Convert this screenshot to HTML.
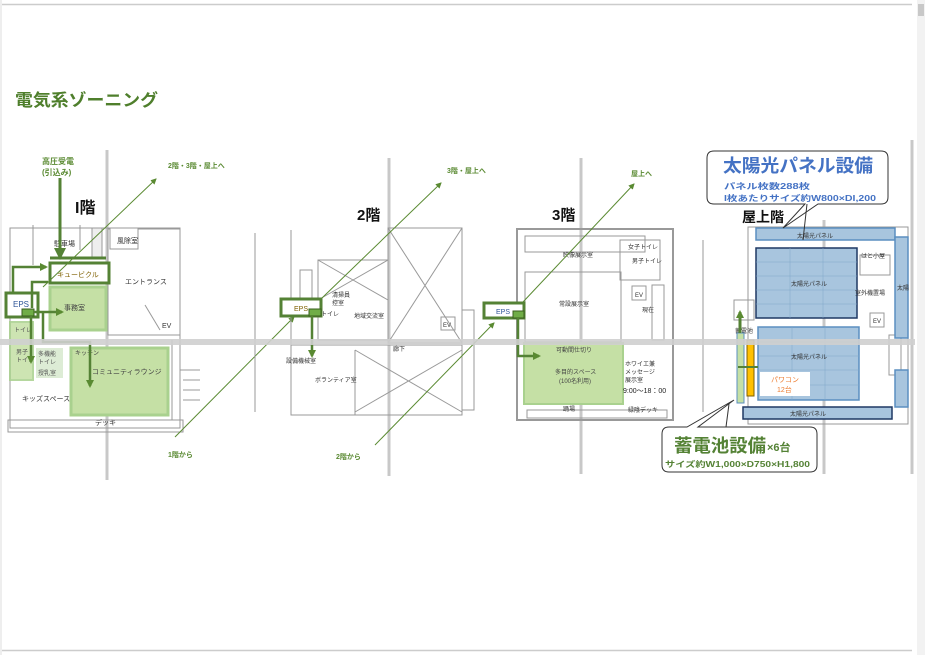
<!DOCTYPE html>
<html><head><meta charset="utf-8"><style>
html,body{margin:0;padding:0;background:#fff;}
svg{display:block;font-family:"Liberation Sans","Noto Sans CJK JP",sans-serif;}
</style></head><body>
<svg width="925" height="655" viewBox="0 0 925 655" xmlns="http://www.w3.org/2000/svg">
<defs>
<marker id="ag" markerWidth="6" markerHeight="6" refX="5" refY="3" orient="auto" markerUnits="strokeWidth"><path d="M0,0 L6,3 L0,6 z" fill="#5a8a32"/></marker>
<marker id="at" markerWidth="8" markerHeight="8" refX="6" refY="4" orient="auto" markerUnits="userSpaceOnUse"><path d="M0,0 L8,4 L0,8 z" fill="#5a8a32"/></marker>
<marker id="ab" markerWidth="14" markerHeight="14" refX="10" refY="7" orient="auto" markerUnits="userSpaceOnUse"><path d="M0,1 L12,7 L0,13 z" fill="#548235"/></marker>
</defs>
<rect width="925" height="655" fill="#fff"/>
<rect x="0" y="0" width="2" height="655" fill="#eee"/>
<line x1="2" y1="4.5" x2="912" y2="4.5" stroke="#ccc" stroke-width="1.5"/>
<line x1="2" y1="650.5" x2="912" y2="650.5" stroke="#ccc" stroke-width="1.5"/>
<rect x="917" y="0" width="8" height="655" fill="#f2f2f2"/>
<rect x="918" y="4" width="6" height="12" fill="#c8c8c8"/>

<text x="15" y="106" font-size="17" font-weight="bold" fill="#4f7f2c" textLength="143" lengthAdjust="spacingAndGlyphs">電気系ゾーニング</text>

<g stroke="#c8c8c8" stroke-width="3">
<line x1="107" y1="150" x2="107" y2="480"/>
<line x1="389" y1="158" x2="389" y2="476"/>
<line x1="581" y1="158" x2="581" y2="474"/>
<line x1="824" y1="220" x2="824" y2="474"/>
<line x1="912" y1="140" x2="912" y2="474"/>
</g>

<!-- ====== 1F ====== -->
<g stroke="#999" fill="none" stroke-width="1">
<rect x="10" y="228" width="170" height="200"/>
<rect x="8" y="420" width="175" height="12"/>
<rect x="108" y="229" width="72" height="106"/>
<rect x="110" y="228" width="28" height="21" fill="#fff"/>
<line x1="33" y1="225" x2="33" y2="265"/>
<line x1="80" y1="225" x2="80" y2="250"/>
<rect x="92" y="228" width="10" height="30" fill="#eee"/>
<line x1="145" y1="305" x2="160" y2="330"/>
<line x1="172" y1="340" x2="172" y2="420"/>
<line x1="180" y1="370" x2="200" y2="370"/>
<line x1="183" y1="380" x2="200" y2="380"/>
<line x1="183" y1="390" x2="200" y2="390"/>
<line x1="183" y1="400" x2="200" y2="400"/>
</g>
<text x="54" y="246" font-size="7" fill="#333">駐車場</text>
<text x="117" y="243" font-size="7" fill="#333">風除室</text>
<text x="125" y="284" font-size="7" fill="#333">エントランス</text>
<text x="162" y="328" font-size="7" fill="#333">EV</text>
<text x="22" y="401" font-size="7" fill="#333">キッズスペース</text>
<text x="95" y="425" font-size="7" fill="#333">デッキ</text>
<rect x="50" y="287" width="56" height="43" fill="#c5e0a5" stroke="#a9d18e" stroke-width="3"/>
<text x="64" y="310" font-size="7" fill="#444">事務室</text>
<rect x="71" y="348" width="97" height="67" fill="#c5e0a5" stroke="#a9d18e" stroke-width="3"/>
<text x="92" y="374" font-size="7" fill="#444">コミュニティラウンジ</text>
<text x="75" y="355" font-size="6" fill="#444">キッチン</text>
<rect x="10" y="322" width="23" height="58" fill="#c5e0a5" stroke="#a9d18e" stroke-width="2" opacity="0.85"/>
<text x="14" y="332" font-size="6" fill="#555">トイレ</text>
<text x="16" y="354" font-size="6" fill="#555">男子</text>
<text x="16" y="362" font-size="6" fill="#555">トイレ</text>
<rect x="36" y="348" width="27" height="30" fill="#d9ead0" opacity="0.9"/>
<text x="38" y="356" font-size="6" fill="#555">多機能</text>
<text x="38" y="364" font-size="6" fill="#555">トイレ</text>
<text x="38" y="375" font-size="6" fill="#555">授乳室</text>

<text x="42" y="164" font-size="8" font-weight="bold" fill="#5a8a32">高圧受電</text>
<text x="42" y="175" font-size="8" font-weight="bold" fill="#5a8a32">(引込み)</text>
<text x="75" y="213" font-size="16" font-weight="bold" fill="#111">I階</text>
<line x1="60" y1="178" x2="60" y2="258" stroke="#548235" stroke-width="3" marker-end="url(#ab)"/>
<line x1="50" y1="258" x2="106" y2="258" stroke="#548235" stroke-width="3"/>
<rect x="50" y="263" width="59" height="20" fill="#fff" stroke="#548235" stroke-width="3"/>
<text x="57" y="277" font-size="7" fill="#7f6000">キュービクル</text>
<rect x="6" y="293" width="32" height="24" fill="#fff" stroke="#548235" stroke-width="3"/>
<text x="13" y="307" font-size="8" fill="#2f5597">EPS</text>
<rect x="22" y="309" width="12" height="7" fill="#70ad47" stroke="#3a5f1e" stroke-width="1"/>
<polyline points="13,293 13,267 46,267" fill="none" stroke="#548235" stroke-width="2.5" marker-end="url(#at)"/>
<polyline points="32,308 32,282 48,282" fill="none" stroke="#548235" stroke-width="2.5"/>
<line x1="31" y1="316" x2="31" y2="362" stroke="#548235" stroke-width="2.5" marker-end="url(#at)"/>
<line x1="34" y1="312" x2="62" y2="312" stroke="#548235" stroke-width="2.5" marker-end="url(#at)"/>
<polyline points="43,312 43,342 90,342 90,386" fill="none" stroke="#548235" stroke-width="2.5" marker-end="url(#at)"/>

<line x1="43" y1="287" x2="156" y2="179" stroke="#5a8a32" stroke-width="1" marker-end="url(#ag)"/>
<text x="168" y="168" font-size="7" font-weight="bold" fill="#5a8a32">2階・3階・屋上へ</text>
<line x1="175" y1="437" x2="294" y2="317" stroke="#5a8a32" stroke-width="1" marker-end="url(#ag)"/>
<text x="168" y="457" font-size="7" font-weight="bold" fill="#5a8a32">1階から</text>

<!-- ====== 2F ====== -->
<g stroke="#999" fill="none" stroke-width="1">
<line x1="255" y1="233" x2="255" y2="412"/>
<line x1="291" y1="230" x2="291" y2="415"/>
<rect x="318" y="260" width="70" height="80"/>
<line x1="318" y1="260" x2="388" y2="300"/>
<line x1="318" y1="300" x2="388" y2="260"/>
<rect x="388" y="228" width="74" height="115"/>
<line x1="388" y1="228" x2="462" y2="343"/>
<line x1="462" y1="228" x2="388" y2="343"/>
<rect x="291" y="345" width="171" height="70"/>
<line x1="355" y1="350" x2="462" y2="412"/>
<line x1="355" y1="412" x2="462" y2="350"/>
<line x1="355" y1="350" x2="355" y2="415"/>
<rect x="300" y="270" width="12" height="30"/>
<rect x="462" y="310" width="12" height="100"/>
<rect x="441" y="317" width="14" height="13"/>
</g>
<text x="357" y="220" font-size="15" font-weight="bold" fill="#111">2階</text>
<text x="332" y="297" font-size="6" fill="#333">清掃員</text>
<text x="332" y="305" font-size="6" fill="#333">控室</text>
<text x="321" y="316" font-size="6" fill="#333">トイレ</text>
<text x="354" y="318" font-size="6" fill="#333">地域交流室</text>
<text x="443" y="327" font-size="6" fill="#333">EV</text>
<text x="393" y="351" font-size="6" fill="#333">廊下</text>
<text x="286" y="363" font-size="6" fill="#333">設備機械室</text>
<text x="315" y="382" font-size="6" fill="#333">ボランティア室</text>
<rect x="281" y="299" width="40" height="17" fill="#fff" stroke="#548235" stroke-width="3"/>
<text x="294" y="311" font-size="7" fill="#7f6000">EPS</text>
<rect x="309" y="309" width="12" height="7" fill="#70ad47" stroke="#3a5f1e" stroke-width="1"/>
<line x1="312" y1="316" x2="312" y2="356" stroke="#548235" stroke-width="2.5" marker-end="url(#at)"/>
<line x1="322" y1="298" x2="441" y2="183" stroke="#5a8a32" stroke-width="1" marker-end="url(#ag)"/>
<text x="447" y="173" font-size="7" font-weight="bold" fill="#5a8a32">3階・屋上へ</text>
<line x1="375" y1="445" x2="494" y2="323" stroke="#5a8a32" stroke-width="1" marker-end="url(#ag)"/>
<text x="336" y="459" font-size="7" font-weight="bold" fill="#5a8a32">2階から</text>

<!-- ====== 3F ====== -->
<g stroke="#999" fill="none" stroke-width="1">
<rect x="517" y="229" width="156" height="191" stroke-width="2"/>
<rect x="525" y="236" width="120" height="16"/>
<rect x="525" y="272" width="96" height="70"/>
<rect x="620" y="240" width="40" height="40"/>
<rect x="632" y="286" width="14" height="14"/>
<rect x="652" y="285" width="12" height="55"/>
<rect x="527" y="410" width="140" height="8"/>
</g>
<text x="552" y="220" font-size="15" font-weight="bold" fill="#111">3階</text>
<text x="563" y="257" font-size="6" fill="#333">映像展示室</text>
<text x="559" y="306" font-size="6" fill="#333">常設展示室</text>
<text x="628" y="249" font-size="6" fill="#333">女子トイレ</text>
<text x="632" y="263" font-size="6" fill="#333">男子トイレ</text>
<text x="642" y="312" font-size="6" fill="#333">現在</text>
<text x="635" y="297" font-size="6" fill="#333">EV</text>
<rect x="524" y="343" width="99" height="61" fill="#c5e0a5" stroke="#a9d18e" stroke-width="2"/>
<text x="556" y="352" font-size="6" fill="#444">可動間仕切り</text>
<text x="555" y="374" font-size="6" fill="#444">多目的スペース</text>
<text x="559" y="383" font-size="6" fill="#444">(100名利用)</text>
<text x="625" y="366" font-size="6" fill="#333">ホワイエ兼</text>
<text x="625" y="374" font-size="6" fill="#333">メッセージ</text>
<text x="625" y="382" font-size="6" fill="#333">展示室</text>
<text x="623" y="393" font-size="7" fill="#222">9:00～18：00</text>
<text x="563" y="411" font-size="6" fill="#333">踊場</text>
<text x="628" y="412" font-size="6" fill="#333">緑陰デッキ</text>
<rect x="484" y="303" width="40" height="15" fill="#fff" stroke="#548235" stroke-width="3"/>
<text x="496" y="314" font-size="7" fill="#2f5597">EPS</text>
<rect x="513" y="311" width="11" height="7" fill="#70ad47" stroke="#3a5f1e" stroke-width="1"/>
<polyline points="518,318 518,356 539,356" fill="none" stroke="#548235" stroke-width="2.5" marker-end="url(#at)"/>
<line x1="523" y1="302" x2="634" y2="184" stroke="#5a8a32" stroke-width="1" marker-end="url(#ag)"/>
<text x="631" y="176" font-size="7" font-weight="bold" fill="#5a8a32">屋上へ</text>

<!-- ====== Roof ====== -->
<g stroke="#999" fill="none" stroke-width="1">
<rect x="748" y="227" width="160" height="197"/>
<line x1="703" y1="240" x2="703" y2="412"/>
<rect x="734" y="300" width="20" height="20"/>
<rect x="860" y="255" width="30" height="20"/>
<rect x="870" y="313" width="14" height="14"/>
<rect x="889" y="335" width="12" height="40"/>
</g>
<text x="742" y="222" font-size="14" font-weight="bold" fill="#111">屋上階</text>
<g fill="#a8c5de" stroke-width="1.5">
<rect x="756" y="228" width="139" height="12" stroke="#5b8fc0"/>
<rect x="756" y="248" width="101" height="70" stroke="#1f3864"/>
<rect x="758" y="327" width="101" height="73" stroke="#5b8fc0"/>
<rect x="743" y="407" width="149" height="12" stroke="#1f3864"/>
<rect x="895" y="237" width="13" height="101" stroke="#5b8fc0"/>
<rect x="895" y="370" width="13" height="37" stroke="#5b8fc0"/>
</g>
<g stroke="#7ea6c9" stroke-width="0.5">
<line x1="790" y1="248" x2="790" y2="318"/><line x1="823" y1="248" x2="823" y2="318"/>
<line x1="792" y1="327" x2="792" y2="400"/><line x1="825" y1="327" x2="825" y2="400"/>
<line x1="756" y1="262" x2="857" y2="262"/><line x1="756" y1="276" x2="857" y2="276"/><line x1="756" y1="290" x2="857" y2="290"/><line x1="756" y1="304" x2="857" y2="304"/>
<line x1="758" y1="342" x2="859" y2="342"/><line x1="758" y1="356" x2="859" y2="356"/><line x1="758" y1="370" x2="859" y2="370"/><line x1="758" y1="385" x2="859" y2="385"/>
</g>
<text x="797" y="238" font-size="6" fill="#333">太陽光パネル</text>
<text x="791" y="286" font-size="6" fill="#333">太陽光パネル</text>
<text x="791" y="359" font-size="6" fill="#333">太陽光パネル</text>
<text x="790" y="416" font-size="6" fill="#333">太陽光パネル</text>
<text x="897" y="290" font-size="6" fill="#333">太陽</text>
<text x="861" y="258" font-size="6" fill="#333">はと小屋</text>
<text x="855" y="295" font-size="6" fill="#333">室外機置場</text>
<text x="873" y="323" font-size="6" fill="#333">EV</text>
<text x="735" y="333" font-size="6" fill="#333">蓄電池</text>
<rect x="737" y="333" width="7" height="70" fill="#c5e0a5" stroke="#5b8fc0" stroke-width="1"/>
<rect x="747" y="340" width="7" height="56" fill="#ffc000" stroke="#7f6000" stroke-width="1"/>
<line x1="740" y1="333" x2="740" y2="312" stroke="#548235" stroke-width="3" marker-end="url(#at)"/>
<line x1="738" y1="367" x2="758" y2="367" stroke="#548235" stroke-width="2"/>
<rect x="760" y="372" width="50" height="24" fill="#fff"/>
<text x="771" y="382" font-size="7" fill="#ed7d31">パワコン</text>
<text x="777" y="392" font-size="7" fill="#ed7d31">12台</text>

<!-- callouts -->
<path d="M714,151 H881 Q888,151 888,158 V197 Q888,204 881,204 H818 L783,228 L805,204 H714 Q707,204 707,197 V158 Q707,151 714,151 Z" fill="#fff" stroke="#333" stroke-width="1"/>
<line x1="807" y1="204" x2="803" y2="240" stroke="#333" stroke-width="1"/>
<text x="723" y="172" font-size="18" font-weight="bold" fill="#4472c4" textLength="150" lengthAdjust="spacingAndGlyphs">太陽光パネル設備</text>
<text x="724" y="189" font-size="8" font-weight="bold" fill="#4472c4" textLength="86" lengthAdjust="spacingAndGlyphs">パネル枚数288枚</text>
<text x="724" y="201" font-size="8" font-weight="bold" fill="#4472c4" textLength="152" lengthAdjust="spacingAndGlyphs">I枚あたりサイズ約W800×DI,200</text>
<path d="M669,427 H687 L734,400 L698,427 H810 Q817,427 817,434 V465 Q817,472 810,472 H669 Q662,472 662,465 V434 Q662,427 669,427 Z" fill="#fff" stroke="#333" stroke-width="1"/>
<line x1="729" y1="404" x2="726" y2="427" stroke="#333" stroke-width="1"/>
<text x="674" y="452" font-size="18" font-weight="bold" fill="#548235" textLength="92" lengthAdjust="spacingAndGlyphs">蓄電池設備</text>
<text x="767" y="451" font-size="11" font-weight="bold" fill="#548235">×6台</text>
<text x="665" y="467" font-size="8" font-weight="bold" fill="#548235" textLength="145" lengthAdjust="spacingAndGlyphs">サイズ約W1,000×D750×H1,800</text>

<rect x="0" y="339" width="915" height="6" fill="#cfcfcf" opacity="0.9"/>
</svg>
</body></html>
